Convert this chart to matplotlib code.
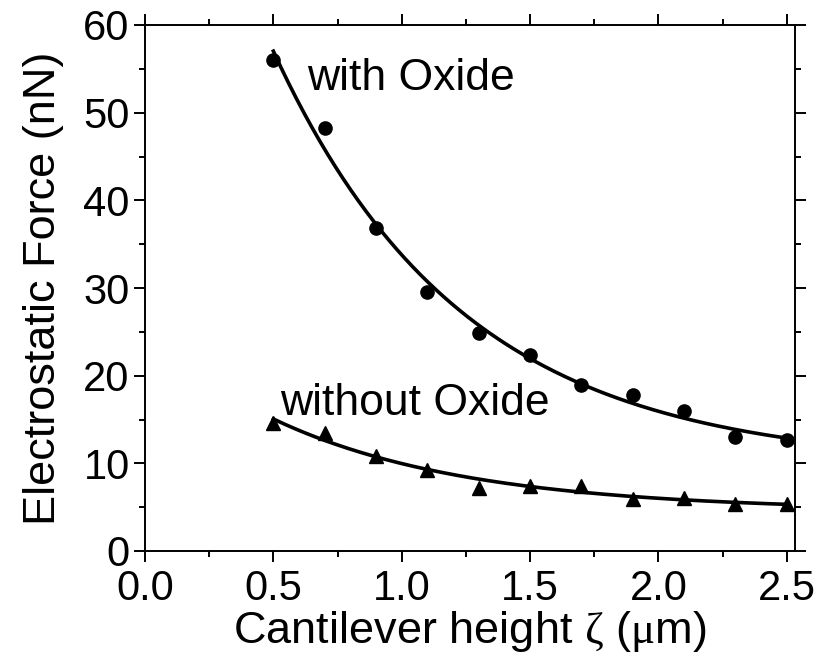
import matplotlib
matplotlib.use("Agg")
import matplotlib.pyplot as plt
import numpy as np
from matplotlib.ticker import MultipleLocator

plt.rcParams['font.family'] = ['Liberation Sans', 'DejaVu Sans']
plt.rcParams['mathtext.fontset'] = 'custom'
plt.rcParams['mathtext.rm'] = 'Liberation Serif'
plt.rcParams['mathtext.it'] = 'Liberation Serif:italic'

# measured points (nN) vs cantilever height (um)
heights = [0.5, 0.7, 0.9, 1.1, 1.3, 1.5, 1.7, 1.9, 2.1, 2.3, 2.5]
force_with_oxide = [56.0, 48.2, 36.9, 29.5, 24.9, 22.4, 18.9, 17.8, 16.0, 13.0, 12.7]
force_without_oxide = [14.6, 13.5, 10.8, 9.2, 7.2, 7.45, 7.4, 5.9, 6.1, 5.4, 5.35]

x_ticks = [0.0, 0.5, 1.0, 1.5, 2.0, 2.5]
y_ticks = [0, 10, 20, 30, 40, 50, 60]


def exp_fit(x, y):
    # least squares fit of y0 + A*exp(-x/t), grid search over t
    x = np.asarray(x)
    y = np.asarray(y)
    best = None
    for t in np.linspace(0.1, 5.0, 2000):
        M = np.column_stack([np.ones_like(x), np.exp(-x / t)])
        coef, res, _, _ = np.linalg.lstsq(M, y, rcond=None)
        err = np.sum((M @ coef - y) ** 2)
        if best is None or err < best[0]:
            best = (err, coef[0], coef[1], t)
    return best[1:]


fig = plt.figure(figsize=(8.22, 6.59), dpi=100)
ax = fig.add_axes([145 / 822, 1 - 551 / 659, 650 / 822, 526 / 659])

xs = np.linspace(min(heights), max(heights), 200)
for ys, marker in [(force_with_oxide, 'o'), (force_without_oxide, '^')]:
    y0, A, t = exp_fit(heights, ys)
    ax.plot(xs, y0 + A * np.exp(-xs / t), color='black', lw=2.6, zorder=2)
    ax.plot(heights, ys, linestyle='none', marker=marker, color='black',
            markersize=9.5 if marker == 'o' else 10, zorder=3, clip_on=False)

ax.text(0.631, 52.6, 'with Oxide', fontsize=32, ha='left', va='baseline')
ax.text(0.526, 15.5, 'without Oxide', fontsize=32, ha='left', va='baseline')

ax.set_xlim(0, 2.532)
ax.set_ylim(0, 60)
ax.set_xticks(x_ticks)
ax.set_yticks(y_ticks)
ax.set_xticklabels([f'{v:.1f}' for v in x_ticks])
ax.xaxis.set_minor_locator(MultipleLocator(0.25))
ax.yaxis.set_minor_locator(MultipleLocator(5))
ax.tick_params(which='both', direction='out', top=True, right=True, width=1.4,
               labelsize=30)
ax.tick_params(axis='x', pad=5)
ax.tick_params(axis='y', pad=3)
ax.tick_params(which='major', length=8)
ax.tick_params(which='minor', length=4.5)
for s in ax.spines.values():
    s.set_linewidth(1.4)

ax.set_xlabel(r'Cantilever height $\mathrm{\zeta}$ ($\mathrm{\mu}$m)', fontsize=32.5, labelpad=0)
ax.set_ylabel('Electrostatic Force (nN)', fontsize=32.5, labelpad=14)

fig.savefig('out.png', dpi=100)
